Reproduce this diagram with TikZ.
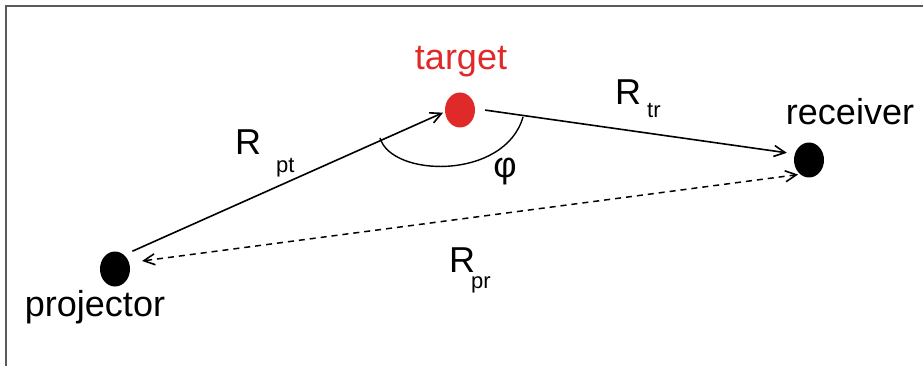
\documentclass[tikz,border=0pt]{standalone}
\usepackage{fontspec}
\setmainfont{Liberation Sans}
\usepackage{xcolor}
\usepackage{tikz}
\usetikzlibrary{shapes.geometric,arrows.meta,positioning,calc}
\definecolor{tgtred}{HTML}{E02A2A}
\definecolor{framegray}{HTML}{5A5A5A}
\tikzset{
  DOT/.style={ellipse, fill=black, draw=none, minimum width=30pt,
              minimum height=35pt, inner sep=0pt},
  LBL/.style={font=\fontsize{36}{40}\selectfont, inner sep=0pt},
  SUB/.style={font=\fontsize{22}{24}\selectfont, inner sep=0pt},
  SA/.style={-{Straight Barb[length=11pt,width=11pt,line width=1.6pt]}, line width=1.6pt},
  DA/.style={{Straight Barb[length=11pt,width=11pt,line width=1.6pt]}-{Straight Barb[length=11pt,width=11pt,line width=1.6pt]},
             line width=1.5pt, dash pattern=on 6pt off 5pt}
}
\begin{document}
\begin{tikzpicture}[x=1pt,y=-1pt]
\useasboundingbox (0,0) rectangle (923,366);
\fill[white] (0,0) rectangle (923,366);

% ---- frame ----
\draw[framegray, line width=2pt] (5.5,366) -- (5.5,6.5) -- (923,6.5);

% ---- the three points ----
\node[DOT, fill=tgtred] (tgt)  at (460,110) {};
\node[DOT]              (rcv)  at (809,160) {};
\node[DOT]              (proj) at (115,269) {};

% ---- names ----
\node[LBL, text=tgtred, anchor=base] (tgtname)  at (461,70)  {target};
\node[LBL, anchor=base]              (rcvname)  at (850,125) {receiver};
\node[LBL, anchor=base]              (projname) at (95,316)  {projector};

% ---- ranges ----
\draw[SA, shorten <=9pt, shorten >=2pt] (proj.57) -- (tgt.187);
\draw[SA, shorten <=10pt, shorten >=8pt] (tgt.5) -- (rcv.157);
\draw[DA, shorten <=2pt, shorten >=13pt] (rcv.238) -- (proj.24);

% ---- bistatic angle ----
\draw[line width=1.4pt] (380,138) .. controls (392,178) and (505,180) .. (523,117);
\node[LBL, anchor=base] (phi) at (505,178) {φ};

% ---- range labels ----
\node[LBL, anchor=base west] (Rpt) at (235,155) {R};
\node[SUB, anchor=base west] (pt)  at (276,173) {pt};
\node[LBL, anchor=base west] (Rtr) at (615,105) {R};
\node[SUB, anchor=base west] (tr)  at (647,118) {tr};
\node[LBL, anchor=base west] (Rpr) at (449,272) {R};
\node[SUB, anchor=base west] (pr)  at (471,288) {pr};

\end{tikzpicture}
\end{document}
